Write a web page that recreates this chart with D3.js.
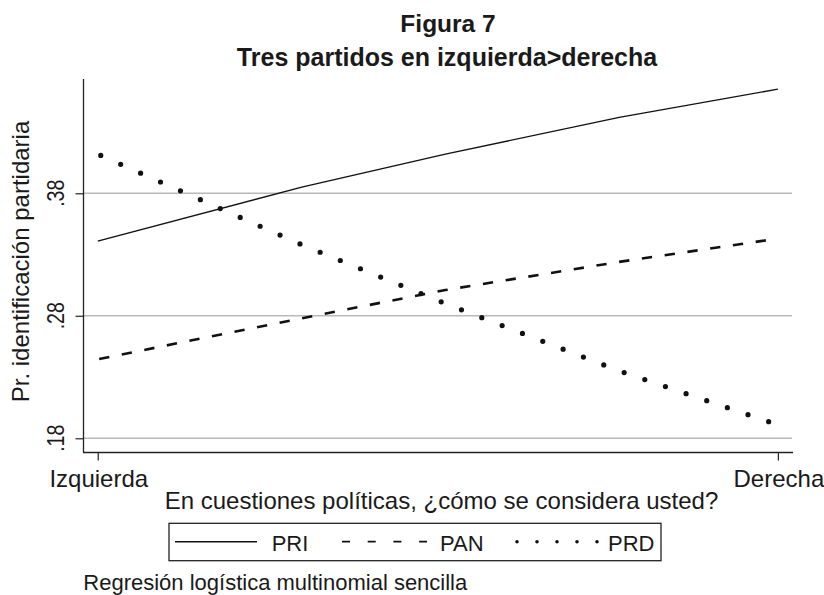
<html>
<head>
<meta charset="utf-8">
<title>Figura 7</title>
<style>
body { margin: 0; background-color: white; }
svg text { font-family: "Liberation Sans", Arial, sans-serif; fill: #1a1a1a; }
</style>
<script src="https://d3js.org/d3.v7.min.js"></script>
</head>
<body>
<div id="chart"></div>
<script type="text/javascript">
// values (x: left-right self placement scale)
var xVals = [1, 3.7, 5.6, 7.9, 10];
var priVals = [0.341, 0.385, 0.412, 0.442, 0.465];
var panVals = [0.2445, 0.278, 0.301, 0.324, 0.343];
var prdVals = [0.412, 0.338, 0.290, 0.235, 0.191];
var yTicks = [0.18, 0.28, 0.38];
var xTicks = [1, 10];
var xTickLabels = ["Izquierda", "Derecha"];
var partyNames = ["PRI", "PAN", "PRD"];

var width = 824, height = 595;
var svg = d3.select("#chart").append("svg")
    .attr("width", width)
    .attr("height", height);

// scales
var x = d3.scaleLinear().domain([0.805, 10.2]).range([83, 793]);
var y = d3.scaleLinear().domain([0.1688, 0.4733]).range([452, 79]);

// helper for text
function addText(str, tx, ty, size, opts) {
    opts = opts || {};
    var tr = "translate(" + tx + "," + ty + ")";
    if (opts.rotate) tr += " rotate(" + opts.rotate + ")";
    tr += " scale(" + (opts.sx || 1) + "," + (opts.sy || 1) + ")";
    return svg.append("text")
        .attr("transform", tr)
        .attr("text-anchor", opts.anchor || "middle")
        .attr("font-size", size + "px")
        .attr("font-weight", opts.bold ? "bold" : "normal")
        .text(str);
}

// gridlines
svg.append("g")
    .selectAll("line")
    .data(yTicks)
    .enter()
    .append("line")
    .attr("x1", 83).attr("x2", 792)
    .attr("y1", function(d) { return y(d); })
    .attr("y2", function(d) { return y(d); })
    .attr("stroke", "#b9b9b9")
    .attr("stroke-width", 1.4);

// y axis
var yAxis = svg.append("g")
    .attr("transform", "translate(83.5,0)")
    .call(d3.axisLeft(y).tickValues(yTicks).tickSize(8).tickFormat(""));
yAxis.select(".domain").attr("d", "M0,79V452.5").attr("stroke", "#222").attr("stroke-width", 1.3);
yAxis.selectAll(".tick line").attr("stroke", "#222").attr("stroke-width", 1.2);

// x axis
var xAxis = svg.append("g")
    .attr("transform", "translate(0,452.5)")
    .call(d3.axisBottom(x).tickValues(xTicks).tickSize(8).tickFormat(""));
xAxis.select(".domain").attr("d", "M83,0H793").attr("stroke", "#222").attr("stroke-width", 1.3);
xAxis.selectAll(".tick line").attr("stroke", "#222").attr("stroke-width", 1.2);

// tick labels
yTicks.forEach(function(t) {
    addText(d3.format(".2f")(t).replace(/^0/, ""), 63.5, y(t), 23, {rotate: -90, sx: 0.85});
});
xTicks.forEach(function(t, i) {
    addText(xTickLabels[i], x(t) + 1, 486.7, 24);
});

// lines
var line = d3.line()
    .x(function(d) { return x(d[0]); })
    .y(function(d) { return y(d[1]); });

function pairs(vals) {
    return xVals.map(function(v, i) { return [v, vals[i]]; });
}

svg.append("path")
    .datum(pairs(priVals))
    .attr("d", line)
    .attr("fill", "none")
    .attr("stroke", "#111")
    .attr("stroke-width", 1.4);

svg.append("path")
    .datum(pairs(panVals))
    .attr("d", line)
    .attr("fill", "none")
    .attr("stroke", "#111")
    .attr("stroke-width", 2.6)
    .attr("stroke-dasharray", "10.3 12.7")
    .attr("stroke-dashoffset", -1.5);

svg.append("path")
    .datum(pairs(prdVals))
    .attr("d", line)
    .attr("fill", "none")
    .attr("stroke", "#111")
    .attr("stroke-width", 5.2)
    .attr("stroke-linecap", "round")
    .attr("stroke-dasharray", "0 21.8")
    .attr("stroke-dashoffset", -3.3);

// titles
addText("Figura 7", 448, 31.7, 24.5, {bold: true});
addText("Tres partidos en izquierda>derecha", 447, 66, 25, {bold: true});
addText("Pr. identificación partidaria", 29, 261.5, 24, {rotate: -90});
addText("En cuestiones políticas, ¿cómo se considera usted?", 441.5, 509, 24);

// legend
svg.append("rect")
    .attr("x", 169).attr("y", 523.3)
    .attr("width", 492).attr("height", 37.4)
    .attr("fill", "none")
    .attr("stroke", "#222")
    .attr("stroke-width", 1.3);

var legendItems = [
    {x1: 175, x2: 257, tx: 271.7, w: 1.6, dash: null, cap: "butt"},
    {x1: 342, x2: 427, tx: 440, w: 1.8, dash: "8 17.7", cap: "butt"},
    {x1: 517, x2: 597.5, tx: 608, w: 3.6, dash: "0 20", cap: "round"}
];
legendItems.forEach(function(it, i) {
    var l = svg.append("line")
        .attr("x1", it.x1).attr("x2", it.x2)
        .attr("y1", 541.7).attr("y2", 541.7)
        .attr("stroke", "#111")
        .attr("stroke-width", it.w)
        .attr("stroke-linecap", it.cap);
    if (it.dash) l.attr("stroke-dasharray", it.dash);
    addText(partyNames[i], it.tx, 551, 22, {anchor: "start"});
});

// note
addText("Regresión logística multinomial sencilla", 83.3, 590, 22, {anchor: "start"});
</script>
</body>
</html>
